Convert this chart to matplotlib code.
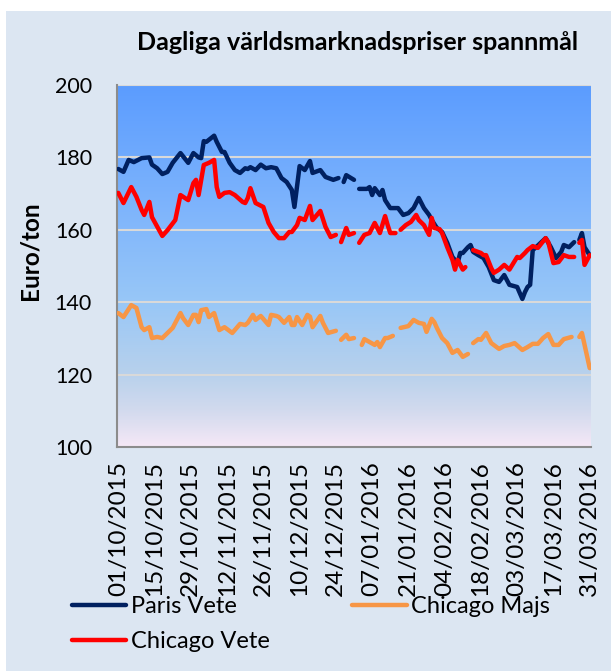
import numpy as np
import pandas as pd
import matplotlib
matplotlib.use("Agg")
from matplotlib import pyplot as plt
from matplotlib.colors import LinearSegmentedColormap
from matplotlib.patches import Rectangle
import matplotlib.dates as mdates

plt.rcParams['font.family'] = ['Lato', 'DejaVu Sans']

start = pd.Timestamp('2015-10-01')
nan = np.nan

# dagar efter 01/10/2015 (nan = lucka i serien)
paris_days = [0, 2, 4, 6, 9, 12, 13, 15, 17, 19, 21, 24, 27, 29, 31, 32, 33, 34, 37, 38,
              40, 41, 43, 45, 47, 49, 50, 51, 53, 55, 57, 59, 61, 63, 65, 67, 68, 70, 72, 74,
              75, 78, 80, 83, 85, 86, 87, 88, 91, 92, 93, 96, 97, 98, 99, 101, 102, 103, 105, 108,
              110, 112, 114, 116, 118, 120, 121, 123, 125, 127, 129, 131, 132, 133, 135, 136, 137, 139, 141, 143,
              145, 147, 149, 151, 154, 156, 157, 158, 159, 160, 161, 165, 167, 169, 171, 172, 174, 176, 177, 178,
              179, 180, 182]
paris_vete = [176.8, 176.0, 179.3, 178.7, 179.8, 180.0, 178.0, 177.0, 175.4, 176.0, 178.5, 181.2, 178.5, 181.2, 180.0, 179.8, 184.5, 184.3, 186.0, 184.3,
              181.5, 181.5, 178.5, 176.5, 175.7, 177.0, 176.8, 177.3, 176.5, 178.0, 177.0, 177.3, 177.0, 174.3, 173.2, 171.0, 166.3, 177.6, 176.5, 179.0,
              175.7, 176.5, 174.6, 173.8, 174.3, nan, 173.2, 175.1, 173.8, nan, 171.3, 171.3, 171.8, 169.6, 171.5, 169.6, 171.0, 168.2, 166.0, 166.0,
              164.1, 164.6, 166.0, 168.8, 166.0, 164.1, 162.7, 160.5, 159.4, 156.4, 152.5, 150.8, 153.6, 153.6, 155.2, 155.8, 153.9, 153.0, 152.2, 149.7,
              146.1, 145.6, 147.5, 144.8, 144.2, 140.9, 142.8, 144.2, 144.8, 154.4, 155.0, 157.7, 155.2, 152.2, 153.9, 155.8, 155.2, 156.6, nan, 157.2,
              159.1, 155.2, 153.0]

vete_days = [0, 2, 5, 7, 9, 10, 12, 13, 14, 17, 19, 22, 24, 27, 29, 30, 31, 33, 35, 37,
             38, 39, 41, 43, 45, 48, 49, 50, 51, 53, 56, 58, 60, 62, 64, 66, 67, 69, 70, 72,
             74, 75, 78, 80, 82, 84, 85, 86, 88, 89, 91, 92, 93, 95, 97, 99, 101, 103, 104, 105,
             107, 108, 109, 111, 113, 115, 116, 118, 120, 121, 122, 124, 125, 127, 129, 130, 131, 133, 134, 135,
             137, 140, 141, 142, 144, 145, 147, 149, 151, 154, 155, 157, 158, 160, 162, 165, 166, 168, 170, 172,
             174, 176, 177, 178, 179, 180, 182]
chicago_vete = [170.2, 167.4, 171.8, 169.1, 165.5, 164.1, 167.7, 163.5, 162.2, 158.3, 159.9, 162.7, 169.6, 168.2, 172.9, 173.8, 169.6, 177.9, 178.5, 179.3,
                171.8, 169.1, 170.2, 170.4, 169.6, 167.7, 167.4, 168.8, 171.5, 167.4, 166.3, 161.9, 159.4, 157.7, 157.7, 159.4, 159.4, 161.3, 163.3, 162.7,
                166.6, 162.7, 165.2, 160.8, 158.0, 158.6, nan, 156.6, 160.5, 158.6, 159.1, nan, 156.4, 158.6, 159.1, 161.9, 159.1, 163.8, 161.3, 159.1,
                159.1, nan, 160.0, 161.3, 162.2, 164.1, 162.7, 161.3, 158.6, 163.3, 160.5, 160.2, 159.1, 155.2, 151.7, 149.0, 151.7, 149.0, 149.7, nan,
                154.4, 153.6, 153.0, 153.0, 149.4, 148.1, 149.0, 150.3, 149.0, 152.5, 152.2, 153.6, 154.4, 155.5, 155.0, 157.7, 156.6, 150.8, 151.1, 153.0,
                152.5, 152.5, nan, 156.4, 157.2, 150.3, 153.0]

majs_days = [0, 2, 5, 7, 9, 10, 12, 13, 15, 17, 21, 24, 25, 27, 29, 30, 31, 32, 34, 35,
             37, 39, 41, 44, 47, 49, 50, 52, 53, 55, 58, 59, 61, 62, 64, 66, 67, 68, 69, 71,
             73, 74, 75, 78, 79, 81, 84, 85, 86, 88, 89, 91, 92, 94, 95, 97, 99, 100, 101, 103,
             104, 106, 107, 109, 112, 114, 116, 118, 119, 121, 122, 123, 125, 127, 129, 131, 133, 135, 136, 137,
             139, 140, 142, 144, 147, 149, 151, 153, 156, 158, 160, 162, 164, 166, 168, 170, 172, 175, 176, 178,
             179, 182]
chicago_majs = [137.0, 135.9, 139.2, 138.4, 133.1, 132.3, 133.1, 130.1, 130.4, 130.1, 132.9, 137.0, 135.6, 133.7, 136.5, 136.5, 134.5, 137.8, 138.1, 135.9,
                137.0, 132.3, 133.1, 131.5, 134.0, 133.7, 134.3, 136.5, 135.1, 136.2, 133.7, 136.5, 136.2, 135.9, 134.3, 135.9, 133.7, 133.7, 135.9, 133.7,
                136.5, 136.0, 133.1, 136.2, 134.3, 131.5, 132.1, nan, 129.6, 131.0, 129.8, 130.1, nan, 128.2, 129.8, 129.0, 128.2, 129.0, 127.6, 130.1,
                130.1, 130.7, nan, 132.9, 133.4, 135.1, 134.3, 134.0, 131.8, 135.4, 134.5, 132.9, 130.1, 128.7, 126.0, 126.8, 124.9, 125.7, nan, 128.7,
                129.8, 129.6, 131.5, 128.7, 127.1, 127.9, 128.2, 128.7, 126.8, 127.6, 128.5, 128.5, 130.1, 131.2, 128.2, 128.2, 129.8, 130.4, nan, 130.4,
                131.5, 121.8]

series = [
    ('Paris Vete', paris_days, paris_vete, '#002060'),
    ('Chicago Majs', majs_days, chicago_majs, '#F79646'),
    ('Chicago Vete', vete_days, chicago_vete, '#FF0000'),
]

fig = plt.figure(figsize=(6.11, 6.71), dpi=100, facecolor='white')
# ljusblå bakgrund för diagramytan
fig.patches.append(Rectangle((6 / 611, 0), 1, 1 - 11 / 671, transform=fig.transFigure,
                             facecolor='#DCE6F2', edgecolor='none', zorder=-1))

ax = fig.add_axes([117 / 611, 1 - 447 / 671, (591 - 117) / 611, (447 - 85) / 671])
ax.set_facecolor('none')

# datumaxel: varje dag mitt i sin egen cell, som i Excel
x0 = start - pd.Timedelta(hours=12)
x1 = pd.Timestamp('2016-03-31') + pd.Timedelta(hours=12)
grad = LinearSegmentedColormap.from_list('bg', [
    (0.0, '#5B9CFF'), (0.35, '#7FB5FC'), (0.6, '#98C7F7'),
    (0.8, '#B8D1EC'), (0.9, '#D2DAEE'), (1.0, '#F5E8F6')])
ax.imshow(np.linspace(0, 1, 256).reshape(-1, 1), cmap=grad, aspect='auto',
          extent=[mdates.date2num(x0), mdates.date2num(x1), 100, 200], zorder=0)

for name, days, vals, col in series:
    dates = start + pd.to_timedelta(days, unit='D')
    ax.plot(dates, vals, color=col, lw=3.2, solid_capstyle='round',
            solid_joinstyle='round', label=name, zorder=3)

ax.set_xlim(x0, x1)
ax.set_ylim(100, 200)
ax.set_yticks(range(100, 201, 20))
for y in range(120, 201, 20):
    ax.axhline(y, color='#D9D9D9', lw=1.5, zorder=1)

ticks = pd.date_range('2015-10-01', '2016-03-31', freq='14D')
ax.set_xticks(ticks)
ax.set_xticklabels([t.strftime('%d/%m/%Y') for t in ticks], rotation=90)
ax.tick_params(axis='both', length=0)
ax.tick_params(axis='y', pad=18, labelsize=15.5)
ax.tick_params(axis='x', pad=10, labelsize=17.5)

for s in ['top', 'right']:
    ax.spines[s].set_visible(False)
ax.spines['left'].set_color('#8C8C8C')
ax.spines['bottom'].set_color('#8C8C8C')
ax.spines['left'].set_linewidth(1.5)
ax.spines['bottom'].set_linewidth(1.5)

fig.text(30 / 611, 1 - 251 / 671, 'Euro/ton', rotation=90, ha='center', va='center',
         fontsize=17.5, fontweight='bold')

fig.text(358 / 611, 1 - 42 / 671, 'Dagliga världsmarknadspriser spannmål',
         ha='center', va='center', fontsize=18, fontweight='bold')

handles, labels = ax.get_legend_handles_labels()
order = [0, 2, 1]
fig.legend([handles[i] for i in order], [labels[i] for i in order],
           loc='upper left', bbox_to_anchor=(60 / 611, 1 - 584 / 671), ncol=2,
           frameon=False, fontsize=17, borderpad=0, handlelength=2.3, handletextpad=0.2,
           columnspacing=3.5, labelspacing=0.6)

fig.savefig('out.png', dpi=100, facecolor=fig.get_facecolor())
